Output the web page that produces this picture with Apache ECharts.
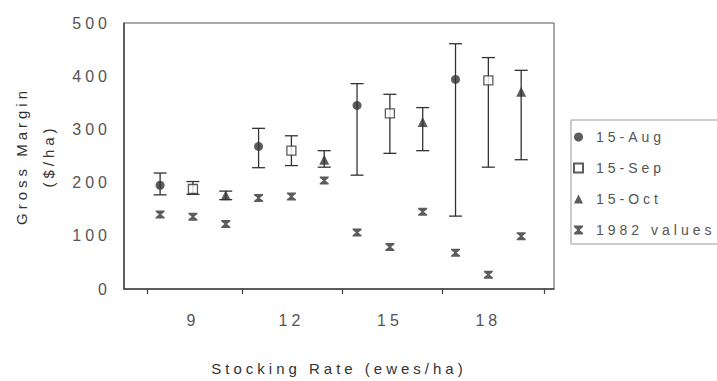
<!DOCTYPE html>
<html>
<head>
<meta charset="utf-8">
<script src="https://cdn.jsdelivr.net/npm/echarts@6/dist/echarts.min.js"></script>
<style>
    html, body { margin: 0; padding: 0; background: #fff; }
    #chart { width: 717px; height: 381px; }
    /* the scanned figure has widely spaced lettering */
    #chart text { letter-spacing: 4px; }
</style>
</head>
<body>
<div id="chart"></div>
<script>
// Gross margin vs stocking rate, three dates plus the 1982 values

const augX = [8, 11, 14, 17];
const augMean = [195, 268, 345, 394];
const augLow = [177, 228, 214, 137];
const augHigh = [218, 302, 386, 461];

const sepX = [9, 12, 15, 18];
const sepMean = [188, 260, 330, 392];
const sepLow = [178, 232, 255, 229];
const sepHigh = [202, 288, 366, 435];

const octX = [10, 13, 16, 19];
const octMean = [176, 243, 314, 371];
const octLow = [168, 229, 260, 243];
const octHigh = [184, 260, 341, 411];

const x1982 = [8, 9, 10, 11, 12, 13, 14, 15, 16, 17, 18, 19];
const values1982 = [140, 136, 122, 171, 174, 204, 106, 79, 145, 68, 27, 99];

const xLabels = [9, 12, 15, 18];
const xTicks = [7.6, 10.5, 13.55, 16.6, 19.7];

const ink = '#333';
const font = 'Liberation Sans';

function pairs(xs, ys) {
    return xs.map(function (x, i) { return [x, ys[i]]; });
}
function bars(xs, lo, hi) {
    return xs.map(function (x, i) { return [x, lo[i], hi[i]]; });
}

function errorBar(params, api) {
    var x = api.value(0);
    var lo = api.coord([x, api.value(1)]);
    var hi = api.coord([x, api.value(2)]);
    var hw = 6.5;
    var style = { stroke: ink, lineWidth: 1.3 };
    return {
        type: 'group',
        children: [
            { type: 'line', shape: { x1: lo[0], y1: lo[1], x2: hi[0], y2: hi[1] }, style: style },
            { type: 'line', shape: { x1: lo[0] - hw, y1: lo[1], x2: lo[0] + hw, y2: lo[1] }, style: style },
            { type: 'line', shape: { x1: hi[0] - hw, y1: hi[1], x2: hi[0] + hw, y2: hi[1] }, style: style }
        ]
    };
}

function barSeries(data) {
    return {
        type: 'custom',
        renderItem: errorBar,
        data: data,
        encode: { x: 0, y: [1, 2] },
        z: 1,
        silent: true
    };
}

const hourglass = 'path://M0,0 L10,0 L10,1.6 L6.3,5 L10,8.4 L10,10 L0,10 L0,8.4 L3.7,5 L0,1.6 Z';

var chart = echarts.init(document.getElementById('chart'), null, { renderer: 'svg' });

var option = {
    backgroundColor: '#fff',
    animation: false,
    textStyle: { fontFamily: font },
    grid: {
        left: 122, right: 163, top: 23, bottom: 87,
        show: true,
        borderColor: '#555',
        borderWidth: 1
    },
    legend: {
        orient: 'vertical',
        left: 571,
        top: 120,
        padding: [9, 60, 6, 2],
        itemWidth: 9,
        itemHeight: 9,
        itemGap: 15,
        symbolKeepAspect: true,
        borderColor: '#999',
        borderWidth: 1,
        data: ['15-Aug', '15-Sep', '15-Oct', '1982 values'],
        textStyle: { fontSize: 14, lineHeight: 16, color: '#555', fontFamily: font, padding: [0, 0, 0, 8] }
    },
    xAxis: {
        type: 'value',
        min: 6.9,
        max: 20,
        name: 'Stocking Rate (ewes/ha)',
        nameLocation: 'middle',
        nameGap: 72,
        nameTextStyle: { fontSize: 15, color: ink, fontFamily: font },
        splitLine: { show: false },
        axisLine: { lineStyle: { color: '#444', width: 1.5 } },
        axisTick: {
            show: true,
            customValues: xTicks,
            length: 5,
            lineStyle: { color: '#444', width: 1.2 }
        },
        axisLabel: {
            customValues: xLabels,
            fontSize: 16,
            color: '#555',
            margin: 23
        }
    },
    yAxis: {
        type: 'value',
        min: 0,
        max: 500,
        interval: 100,
        name: 'Gross Margin\n($/ha)',
        nameLocation: 'middle',
        nameRotate: 90,
        nameGap: 62,
        nameTextStyle: { fontSize: 15, color: ink, lineHeight: 27, fontFamily: font },
        splitLine: { show: false },
        axisLine: { show: true, lineStyle: { color: '#444', width: 1.5 } },
        axisTick: { show: false },
        axisLabel: { fontSize: 16, color: '#555', margin: 13 }
    },
    series: [
        barSeries(bars(augX, augLow, augHigh)),
        barSeries(bars(sepX, sepLow, sepHigh)),
        barSeries(bars(octX, octLow, octHigh)),
        {
            name: '15-Aug',
            type: 'scatter',
            symbol: 'circle',
            symbolSize: 9,
            z: 3,
            itemStyle: { color: ink },
            data: pairs(augX, augMean)
        },
        {
            name: '15-Sep',
            type: 'scatter',
            symbol: 'rect',
            symbolSize: 9,
            z: 3,
            itemStyle: { color: '#fff', borderColor: ink, borderWidth: 1.3 },
            data: pairs(sepX, sepMean)
        },
        {
            name: '15-Oct',
            type: 'scatter',
            symbol: 'triangle',
            symbolSize: 10,
            z: 3,
            itemStyle: { color: ink },
            data: pairs(octX, octMean)
        },
        {
            name: '1982 values',
            type: 'scatter',
            symbol: hourglass,
            symbolSize: [9, 8],
            z: 3,
            itemStyle: { color: ink },
            data: pairs(x1982, values1982)
        }
    ]
};

option && chart.setOption(option);
</script>
</body>
</html>
